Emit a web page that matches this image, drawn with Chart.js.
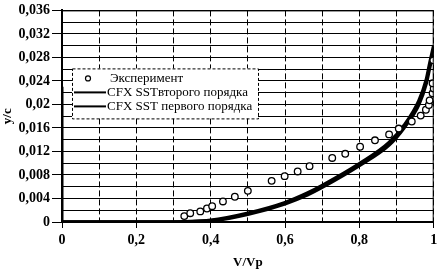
<!DOCTYPE html>
<html>
<head>
<meta charset="utf-8">
<script src="https://cdn.jsdelivr.net/npm/chart.js@4.4.0/dist/chart.umd.min.js"></script>
<style>
  html, body { margin: 0; padding: 0; background: #fff; }
  #wrap { width: 439px; height: 270px; position: relative; }
</style>
</head>
<body>
<div id="wrap"><canvas id="grafico"></canvas></div>
<script>
// Эксперимент
const expX = [0.329, 0.345, 0.372, 0.390, 0.404, 0.433, 0.465, 0.500, 0.564, 0.599, 0.634, 0.666,
              0.727, 0.762, 0.802, 0.842, 0.880, 0.906, 0.941, 0.965, 0.979, 0.987, 0.989, 0.997,
              1.000, 0.997, 0.999];
const expY = [0.0010, 0.0015, 0.0018, 0.0023, 0.0027, 0.0035, 0.0043, 0.0053, 0.0070, 0.0078, 0.0086, 0.0095,
              0.0109, 0.0116, 0.0128, 0.0139, 0.0149, 0.0159, 0.0171, 0.0181, 0.0191, 0.0199, 0.0207, 0.0219,
              0.0227, 0.0236, 0.0275];

// CFX SST второго порядка
const sst2X = [0, 0.27, 0.40, 0.50, 0.60, 0.66, 0.70, 0.80, 0.88, 0.92, 0.96, 0.98, 0.99, 1.00];
const sst2Y = [0, 0, 0.0003, 0.0015, 0.0033, 0.0049, 0.0062, 0.0099, 0.0135, 0.0164, 0.0206, 0.0242, 0.0272, 0.0300];

// CFX SST первого порядка
const sst1X = [0, 0.28, 0.40, 0.50, 0.60, 0.66, 0.70, 0.80, 0.88, 0.92, 0.96, 0.98, 0.99, 1.00];
const sst1Y = [0, 0, 0.0002, 0.0013, 0.0031, 0.0046, 0.0059, 0.0096, 0.0131, 0.0160, 0.0200, 0.0236, 0.0265, 0.0290];

// участок у стенки
const wallX = [0, 0];
const wallY = [0, 0.023];

const labels = ['Эксперимент', 'CFX SSTвторого порядка', 'CFX SST первого порядка'];

function toPoints(xs, ys) {
    return xs.map((x, i) => ({ x: x, y: ys[i] }));
}

function fmt(v) {
    return String(+v.toFixed(3)).replace('.', ',');
}

// Легенда внутри области графика + рамка
const legendBox = {
    id: 'legendBox',
    afterDraw(chart) {
        const c = chart.ctx;
        const a = chart.chartArea;
        c.save();
        c.strokeStyle = '#000';
        c.lineWidth = 1;
        c.strokeRect(a.left + 0.5, a.top + 0.5, a.right - a.left - 1, a.bottom - a.top);

        const x0 = a.left + 10, y0 = a.top + 58, w = 186, h = 50;
        c.fillStyle = '#fff';
        c.fillRect(x0, y0, w, h);
        c.setLineDash([3, 2]);
        c.strokeRect(x0 + 0.5, y0 + 0.5, w, h);
        c.setLineDash([]);

        c.font = '13px "Liberation Serif"';
        c.textBaseline = 'middle';
        c.fillStyle = '#000';
        const rows = [y0 + 10, y0 + 24, y0 + 38];
        chart.data.datasets.slice(0, 3).forEach((ds, i) => {
            const yy = rows[i];
            if (ds.type === 'scatter') {
                c.beginPath();
                c.arc(x0 + 16, yy, 2.5, 0, Math.PI * 2);
                c.lineWidth = 1.2;
                c.stroke();
            } else {
                c.beginPath();
                c.moveTo(x0 + 2, yy);
                c.lineTo(x0 + 34, yy);
                c.lineWidth = 2;
                c.stroke();
            }
            c.fillText(ds.label, i === 0 ? x0 + 38 : x0 + 35, yy);
        });
        c.restore();
    }
};

const ctx = document.getElementById('grafico').getContext('2d');
const chart = new Chart(ctx, {
    type: 'scatter',
    data: {
        datasets: [{
            type: 'scatter',
            label: labels[0],
            data: toPoints(expX, expY),
            pointStyle: 'circle',
            pointRadius: 3.3,
            pointBorderWidth: 1.3,
            pointBorderColor: '#000',
            pointBackgroundColor: '#fff',
            order: 0
        }, {
            type: 'line',
            label: labels[1],
            data: toPoints(sst2X, sst2Y),
            borderColor: '#000',
            borderWidth: 3.5,
            pointRadius: 0,
            cubicInterpolationMode: 'monotone',
            fill: false,
            order: 1
        }, {
            type: 'line',
            label: labels[2],
            data: toPoints(sst1X, sst1Y),
            borderColor: '#000',
            borderWidth: 3.5,
            pointRadius: 0,
            cubicInterpolationMode: 'monotone',
            fill: false,
            order: 2
        }, {
            type: 'line',
            label: '',
            data: toPoints(wallX, wallY),
            borderColor: '#000',
            borderWidth: 3,
            pointRadius: 0,
            fill: false,
            order: 3
        }]
    },
    options: {
        responsive: true,
        maintainAspectRatio: false,
        animation: false,
        layout: { padding: { top: 5, right: 3, left: 0, bottom: 0 } },
        plugins: {
            legend: { display: false },
            tooltip: { enabled: false }
        },
        scales: {
            x: {
                type: 'linear',
                min: 0,
                max: 1,
                afterFit: s => { s.height = 48; s.paddingLeft = 0; s.paddingRight = 0; },
                ticks: {
                    stepSize: 0.1,
                    autoSkip: false,
                    maxRotation: 0,
                    padding: 4,
                    color: '#000',
                    font: { family: '"Liberation Serif"', size: 14, weight: 'bold' },
                    callback: (v, i) => (i % 2 === 0 ? fmt(v) : '')
                },
                grid: {
                    color: '#000',
                    lineWidth: 1,
                    tickLength: 6,
                    tickColor: c => (c.index % 2 === 0 ? '#000' : 'rgba(0,0,0,0)')
                },
                border: { color: '#000', width: 2, dash: [6, 3] },
                title: {
                    display: true,
                    text: 'V/Vp',
                    color: '#000',
                    padding: { top: 2, bottom: 0 },
                    font: { family: '"Liberation Serif"', size: 13, weight: 'bold' }
                }
            },
            y: {
                min: 0,
                max: 0.036,
                afterFit: s => { s.width = 62; },
                ticks: {
                    stepSize: 0.002,
                    autoSkip: false,
                    padding: 2,
                    color: '#000',
                    font: { family: '"Liberation Serif"', size: 14, weight: 'bold' },
                    callback: (v, i) => (i % 2 === 0 ? fmt(v) : '')
                },
                grid: {
                    color: '#000',
                    lineWidth: 1,
                    tickLength: 10,
                    tickColor: c => (c.index % 2 === 0 ? '#000' : 'rgba(0,0,0,0)')
                },
                border: { color: '#000', width: 2 },
                title: {
                    display: true,
                    text: 'y/c',
                    color: '#000',
                    padding: { top: 0, bottom: 2 },
                    font: { family: '"Liberation Serif"', size: 13, weight: 'bold' }
                }
            }
        }
    },
    plugins: [legendBox]
});
</script>
</body>
</html>
